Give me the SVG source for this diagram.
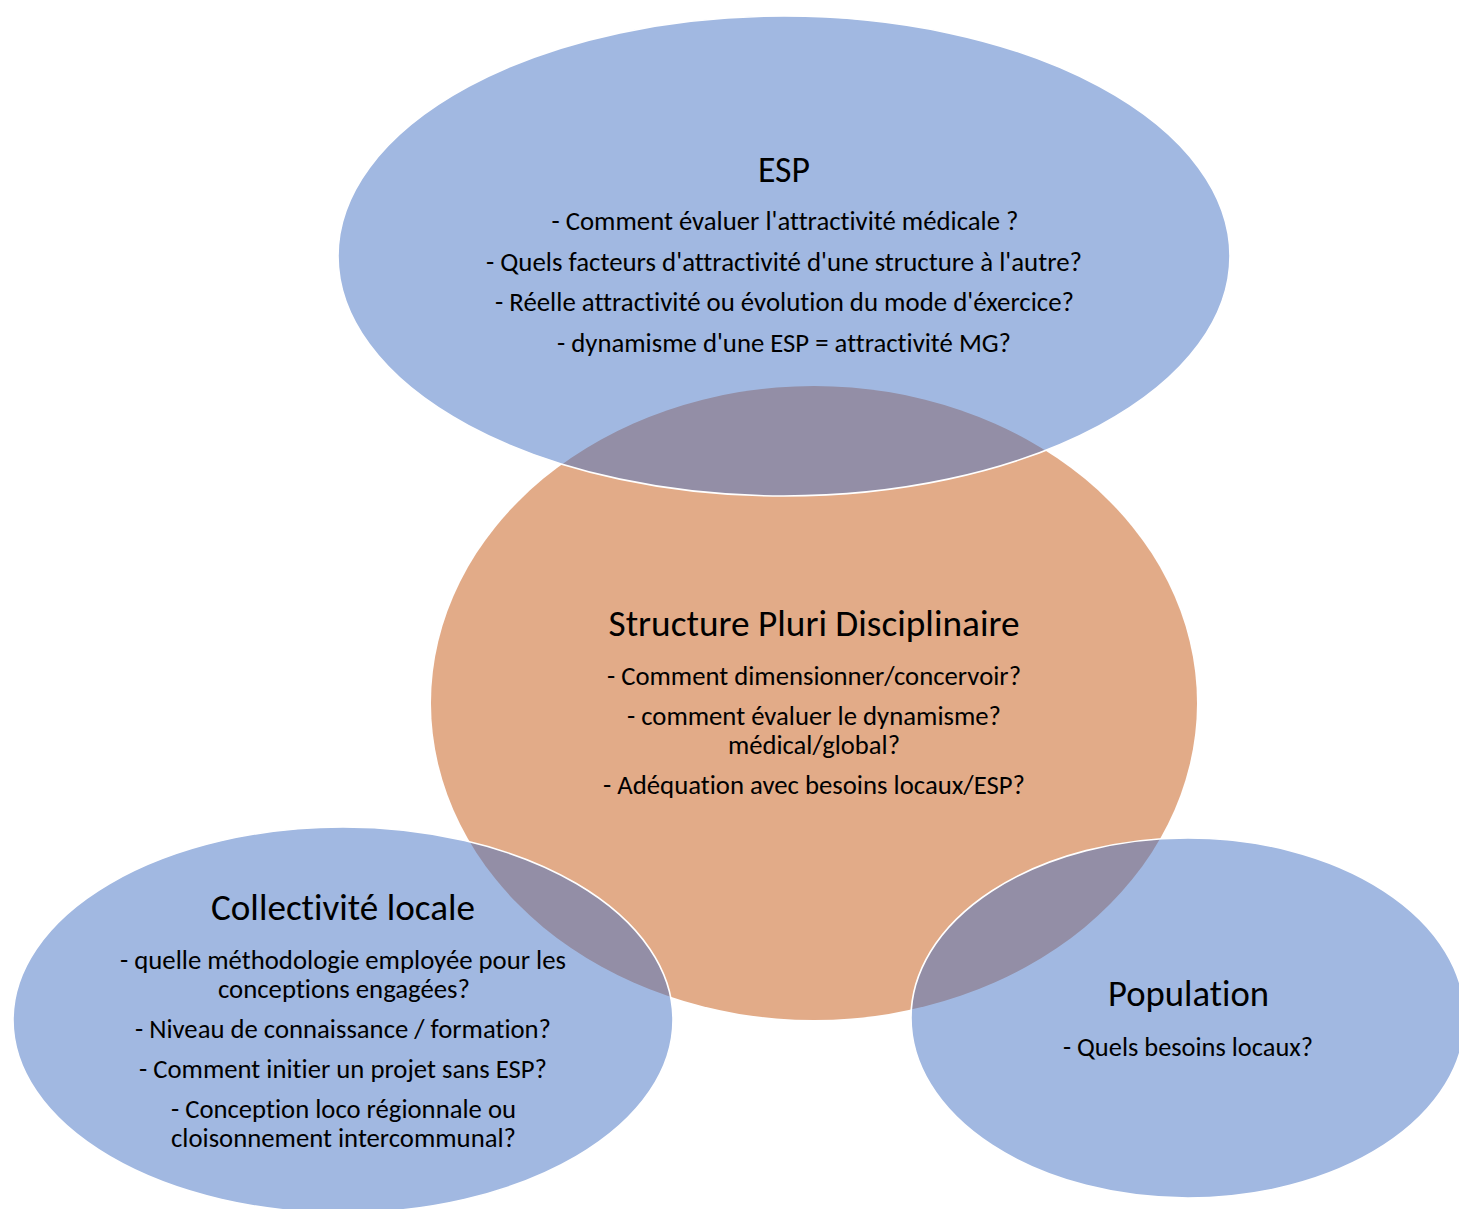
<svg xmlns="http://www.w3.org/2000/svg" width="1459" height="1209" viewBox="0 0 1459 1209">
<style>
  .bg { fill: #ffffff; }
  .orange { fill: #E2AB88; }
  .blue { fill: #4472C4; fill-opacity: 0.5; stroke: #ffffff; stroke-width: 1.6; }
  text { font-family: Carlito, Lato, "Open Sans", "Liberation Sans", sans-serif; fill: #000000; text-anchor: middle; font-variant-ligatures: none; font-feature-settings: "liga" 0, "clig" 0; }
  .title { font-size: 37px; }
  .body { font-size: 26.7px; }
</style>
<rect class="bg" x="0" y="0" width="1459" height="1209"/>
<g id="connectors"/>
<g id="node-structure">
  <ellipse class="orange" cx="814" cy="703" rx="383" ry="317"/>
  <text class="title" x="814" y="636" textLength="411" lengthAdjust="spacingAndGlyphs">Structure Pluri Disciplinaire</text>
  <text class="body" x="814" y="685" textLength="414" lengthAdjust="spacingAndGlyphs">- Comment dimensionner/concervoir?</text>
  <text class="body" x="814" y="725" textLength="374" lengthAdjust="spacingAndGlyphs">- comment évaluer le dynamisme?</text>
  <text class="body" x="814" y="754" textLength="172" lengthAdjust="spacingAndGlyphs">médical/global?</text>
  <text class="body" x="814" y="794" textLength="422" lengthAdjust="spacingAndGlyphs">- Adéquation avec besoins locaux/ESP?</text>
</g>
<g id="node-esp">
  <ellipse class="blue" cx="784" cy="256" rx="446" ry="240"/>
  <text class="title" x="784" y="181.5" textLength="52" lengthAdjust="spacingAndGlyphs">ESP</text>
  <text class="body" x="785" y="230" textLength="467" lengthAdjust="spacingAndGlyphs">- Comment évaluer l'attractivité médicale ?</text>
  <text class="body" x="784" y="270.7" textLength="596" lengthAdjust="spacingAndGlyphs">- Quels facteurs d'attractivité d'une structure à l'autre?</text>
  <text class="body" x="784.5" y="311.3" textLength="579" lengthAdjust="spacingAndGlyphs">- Réelle attractivité ou évolution du mode d'éxercice?</text>
  <text class="body" x="784" y="352" textLength="454" lengthAdjust="spacingAndGlyphs">- dynamisme d'une ESP = attractivité MG?</text>
</g>
<g id="node-collectivite">
  <ellipse class="blue" cx="343" cy="1020" rx="330" ry="193"/>
  <text class="title" x="343" y="920" textLength="264" lengthAdjust="spacingAndGlyphs">Collectivité locale</text>
  <text class="body" x="343" y="968.5" textLength="446" lengthAdjust="spacingAndGlyphs">- quelle méthodologie employée pour les</text>
  <text class="body" x="344" y="997.5" textLength="252" lengthAdjust="spacingAndGlyphs">conceptions engagées?</text>
  <text class="body" x="343" y="1037.5" textLength="416" lengthAdjust="spacingAndGlyphs">- Niveau de connaissance / formation?</text>
  <text class="body" x="343" y="1078" textLength="408" lengthAdjust="spacingAndGlyphs">- Comment initier un projet sans ESP?</text>
  <text class="body" x="343.5" y="1117.5" textLength="345" lengthAdjust="spacingAndGlyphs">- Conception loco régionnale ou</text>
  <text class="body" x="343.5" y="1146.5" textLength="345" lengthAdjust="spacingAndGlyphs">cloisonnement intercommunal?</text>
</g>
<g id="node-population">
  <ellipse class="blue" cx="1188" cy="1018" rx="277" ry="180"/>
  <text class="title" x="1188.5" y="1006" textLength="161" lengthAdjust="spacingAndGlyphs">Population</text>
  <text class="body" x="1188" y="1056" textLength="250" lengthAdjust="spacingAndGlyphs">- Quels besoins locaux?</text>
</g>
</svg>
